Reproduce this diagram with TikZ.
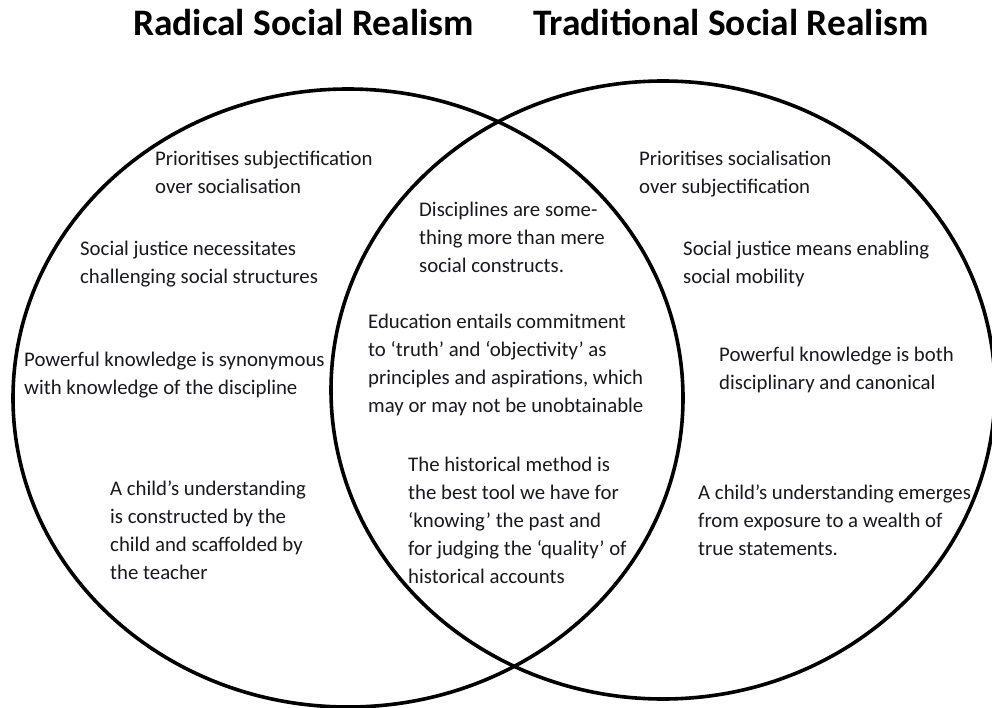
\documentclass[tikz,border=0pt]{standalone}
\usepackage{fontspec}
\setmainfont{Carlito}
\definecolor{txtcol}{HTML}{18181F}
\begin{document}
\begin{tikzpicture}[x=1pt,y=-1pt,
  venn/.style={draw=black, line width=3.6pt},
  title/.style={anchor=base west, inner sep=0pt, font=\fontsize{37.4}{40}\selectfont\bfseries, text=black},
  txt/.style={anchor=north west, inner sep=0pt, align=left, text=txtcol,
    font=\fontsize{20.8}{28}\selectfont, execute at begin node=\strut}]
\useasboundingbox (0,0) rectangle (992,708);
\clip (0,0) rectangle (992,708);
\fill[white] (0,0) rectangle (992,708);
% circles
\draw[venn] (348,398) ellipse [x radius=335pt, y radius=309pt];
\draw[venn] (663,390) ellipse [x radius=332pt, y radius=309pt];
% titles
\node[title] (tl) at (133,36) {Radical Social Realism};
\node[title] (tr) at (533,36) {Traditional Social Realism};
% left
\node[txt] (l1) at (155,170-19.6) {Prioritises subjectification\\over socialisation};
\node[txt] (l2) at (80,260-19.6) {Social justice necessitates\\challenging social structures};
\node[txt] (l3) at (24,371-19.6) {Powerful knowledge is synonymous\\with knowledge of the discipline};
\node[txt] (l4) at (110,500-19.6) {A child’s understanding\\is constructed by the\\child and scaffolded by\\the teacher};
% middle
\node[txt] (m1) at (419,221-19.6) {Disciplines are some-\\thing more than mere\\social constructs.};
\node[txt] (m2) at (368,333-19.6) {Education entails commitment\\to ‘truth’ and ‘objectivity’ as\\principles and aspirations, which\\may or may not be unobtainable};
\node[txt] (m3) at (408,476-19.6) {The historical method is\\the best tool we have for\\‘knowing’ the past and\\for judging the ‘quality’ of\\historical accounts};
% right
\node[txt] (r1) at (639,170-19.6) {Prioritises socialisation\\over subjectification};
\node[txt] (r2) at (683,260-19.6) {Social justice means enabling\\social mobility};
\node[txt] (r3) at (719,366-19.6) {Powerful knowledge is both\\disciplinary and canonical};
\node[txt] (r4) at (698,504-19.6) {A child’s understanding emerges\\from exposure to a wealth of\\true statements.};
\end{tikzpicture}
\end{document}
